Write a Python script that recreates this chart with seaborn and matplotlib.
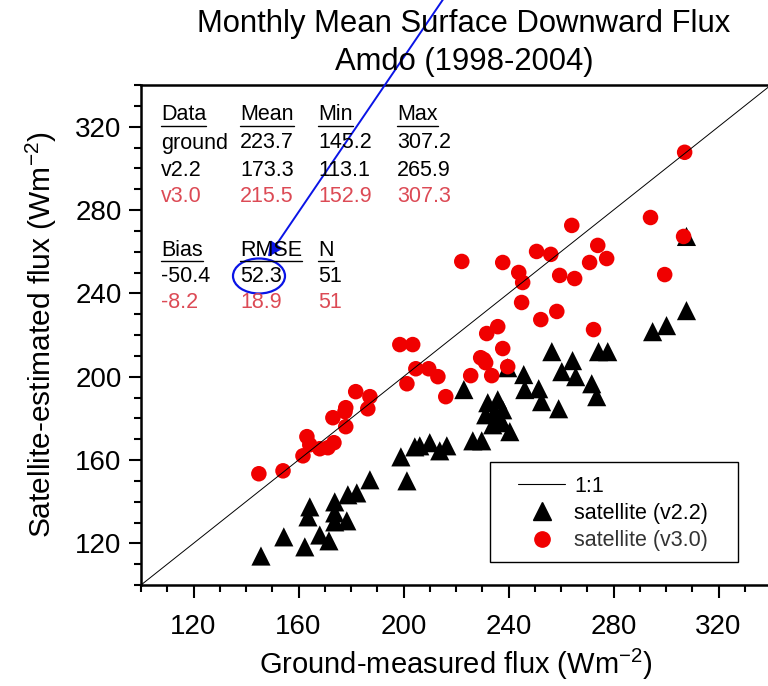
import matplotlib
matplotlib.use("Agg")
import matplotlib.pyplot as plt
from matplotlib.lines import Line2D
from matplotlib.patches import Ellipse, Rectangle
import seaborn as sns
import pandas as pd

# ---------------- data ----------------
ground_v30 = [144.9, 154.1, 161.7, 163.2, 164.3, 168.1, 171.2, 173.5, 173.1, 178.0,
              178.0, 181.8, 187.2, 186.4, 198.6, 203.5, 201.3, 204.7, 209.6, 213.1,
              216.1, 222.2, 225.6, 229.4, 231.3, 231.7, 233.6, 235.9, 237.8, 239.7,
              237.8, 243.9, 245.4, 245.0, 250.7, 256.1, 252.3, 258.4, 259.5, 264.1,
              265.2, 270.9, 272.4, 274.0, 277.4, 294.1, 299.5, 306.7, 307.1, 177.7,
              230.6]
sat_v30 = [153.4, 154.8, 162.0, 171.2, 167.3, 165.4, 165.9, 168.3, 180.3, 176.0,
           185.1, 192.8, 190.4, 184.6, 215.4, 215.4, 196.6, 203.8, 203.8, 200.0,
           190.4, 255.3, 200.5, 209.1, 206.7, 220.7, 200.5, 224.0, 213.5, 204.8,
           254.8, 250.0, 245.2, 235.6, 260.1, 258.7, 227.4, 231.3, 248.6, 272.6,
           247.1, 254.8, 222.6, 263.0, 256.7, 276.4, 249.0, 267.3, 307.7, 183.2,
           208.2]
ground_v22 = [145.7, 154.4, 162.4, 164.3, 163.6, 168.1, 171.6, 173.8, 173.8, 173.8,
              178.4, 178.8, 182.2, 187.2, 199.0, 201.3, 204.3, 206.2, 210.0, 213.8,
              216.5, 223.0, 226.4, 229.8, 232.1, 235.9, 231.3, 234.8, 237.8, 234.0,
              237.4, 240.5, 239.7, 245.8, 246.2, 251.5, 252.6, 256.5, 259.1, 260.3,
              264.4, 265.6, 271.7, 273.6, 274.3, 277.8, 294.9, 300.2, 307.8, 307.8,
              236.7]
sat_v22 = [113.9, 123.1, 118.3, 137.5, 132.7, 124.0, 121.2, 139.9, 134.6, 130.3,
           130.8, 143.3, 144.2, 150.5, 161.5, 150.0, 166.3, 166.8, 168.3, 164.4,
           166.8, 193.8, 169.2, 169.2, 187.5, 188.9, 181.7, 183.2, 184.1, 176.9,
           177.9, 173.6, 204.3, 201.0, 193.8, 194.2, 188.0, 212.0, 184.6, 202.4,
           207.7, 200.0, 196.6, 190.4, 212.0, 212.0, 221.6, 224.5, 231.7, 267.3,
           180.3]
one_to_one = [100, 340]
ticks = [120, 160, 200, 240, 280, 320]

stats_header = ["Data", "Mean", "Min", "Max"]
stats_rows = [["ground", "223.7", "145.2", "307.2"],
              ["v2.2", "173.3", "113.1", "265.9"],
              ["v3.0", "215.5", "152.9", "307.3"]]
err_header = ["Bias", "RMSE", "N"]
err_rows = [["-50.4", "52.3", "51"],
            ["-8.2", "18.9", "51"]]

df22 = pd.DataFrame({"ground": ground_v22, "sat": sat_v22})
df30 = pd.DataFrame({"ground": ground_v30, "sat": sat_v30})

# ---------------- style ----------------
sns.set_style("ticks")
plt.rcParams["font.family"] = ["Liberation Sans", "DejaVu Sans"]
plt.rcParams["mathtext.default"] = "regular"
for k in ["text.color", "axes.labelcolor", "xtick.color", "ytick.color", "axes.edgecolor"]:
    plt.rcParams[k] = "black"

W, H = 768, 686
fig = plt.figure(figsize=(W / 100, H / 100), dpi=100)
fig.patch.set_facecolor("white")

def fx(px):
    return px / W

def fy(py):
    return 1 - py / H

ax = fig.add_axes([fx(141), fy(585), 630 / W, 500 / H])

RED = "#f00000"
sns.lineplot(x=one_to_one, y=one_to_one, ax=ax, color="black", lw=0.7,
             legend=False)
sns.scatterplot(data=df22, x="ground", y="sat", ax=ax, marker="^", s=190,
                color="black", edgecolor="none", linewidth=0, legend=False)
sns.scatterplot(data=df30, x="ground", y="sat", ax=ax, marker="o", s=125,
                color=RED, edgecolor="none", linewidth=0, legend=False)

ax.set_xlim(100, 340)
ax.set_ylim(100, 340)
ax.set_xticks(ticks)
ax.set_yticks(ticks)
ax.set_xticks(range(100, 341, 10), minor=True)
ax.set_yticks(range(100, 341, 10), minor=True)
ax.tick_params(axis="both", which="major", direction="out", length=9, width=1.5,
               labelsize=20, colors="black", pad=12)
ax.tick_params(axis="both", which="minor", direction="out", length=5, width=1.5)
ax.tick_params(axis="y", which="major", pad=5)
ax.tick_params(top=False, right=False, which="both")
for sp in ax.spines.values():
    sp.set_linewidth(1.8)
    sp.set_color("black")

ax.set_xlabel("Ground-measured flux (Wm$^{-2}$)", fontsize=21, labelpad=5)
ax.set_ylabel("Satellite-estimated flux (Wm$^{-2}$)", fontsize=21.5, labelpad=12)

# title
fig.text(fx(464), fy(24), "Monthly Mean Surface Downward Flux", ha="center",
         va="center", fontsize=22.3)
fig.text(fx(464), fy(62), "Amdo (1998-2004)", ha="center", va="center",
         fontsize=22.3)

# stats table
TFS = 15.5
TRED = "#dc4a55"
cols = [161, 240, 318, 397]
header_texts = []
for c, h in zip(cols, stats_header):
    header_texts.append(fig.text(fx(c), fy(115), h, ha="left", va="center", fontsize=TFS))
for r, (row, yy) in enumerate(zip(stats_rows, [143, 170, 197])):
    col = TRED if r == 2 else "black"
    for c, v in zip(cols, row):
        fig.text(fx(c), fy(yy), v, ha="left", va="center", fontsize=TFS, color=col)
for c, h in zip(cols[:3], err_header):
    header_texts.append(fig.text(fx(c), fy(250), h, ha="left", va="center", fontsize=TFS))
for r, (row, yy) in enumerate(zip(err_rows, [277, 303])):
    col = TRED if r == 1 else "black"
    for c, v in zip(cols[:3], row):
        fig.text(fx(c), fy(yy), v, ha="left", va="center", fontsize=TFS, color=col)

fig.canvas.draw()
renderer = fig.canvas.get_renderer()
for t in header_texts:
    bb = t.get_window_extent(renderer)
    yline = bb.y0 - 0.5
    fig.add_artist(Line2D([bb.x0 / W, bb.x1 / W], [yline / H, yline / H],
                          transform=fig.transFigure, color="black", lw=1.0))

# blue annotation
fig.add_artist(Ellipse((fx(259), fy(276)), 52 / W, 35 / H, transform=fig.transFigure,
                       fill=False, edgecolor="#0a14e6", lw=1.6))
ax.annotate("", xy=(fx(268), fy(257)), xytext=(fx(444), fy(-2)),
            xycoords="figure fraction", textcoords="figure fraction",
            arrowprops=dict(arrowstyle="-|>", color="#0a14e6", lw=1.4,
                            mutation_scale=22, shrinkA=0, shrinkB=0),
            annotation_clip=False)

# legend (frame drawn separately)
fig.add_artist(Rectangle((fx(490), fy(562)), 248 / W, 100 / H,
                         transform=fig.transFigure, fill=False,
                         edgecolor="black", lw=1.0))
handles = [Line2D([], [], color="black", lw=0.8),
           Line2D([], [], marker="^", ls="", color="black", markersize=13.5),
           Line2D([], [], marker="o", ls="", color=RED, markersize=11)]
labels = ["1:1", "satellite (v2.2)", "satellite (v3.0)"]
leg = ax.legend(handles, labels, loc="upper left",
                bbox_to_anchor=(fx(518), fy(476)),
                bbox_transform=fig.transFigure,
                fontsize=15.5, frameon=False, borderpad=0, labelspacing=0.28,
                handlelength=2.2, handletextpad=0.4, borderaxespad=0)
leg.get_texts()[2].set_color("#333333")

fig.savefig("out.png", dpi=100, facecolor="white")
